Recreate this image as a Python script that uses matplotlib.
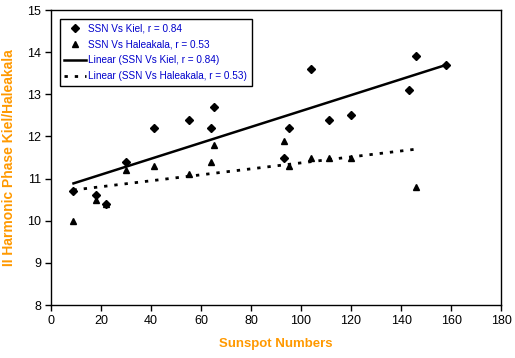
import numpy as np
import matplotlib
matplotlib.use("Agg")
import matplotlib.pyplot as plt
from matplotlib import font_manager

plt.rcParams['font.family'] = ['Liberation Sans', 'DejaVu Sans']

# 数据
ssn_kiel = [9, 18, 22, 30, 41, 55, 64, 65, 93, 95, 104, 111, 120, 143, 146, 158]
phase_kiel = [10.7, 10.6, 10.4, 11.4, 12.2, 12.4, 12.2, 12.7, 11.5, 12.2, 13.6, 12.4, 12.5, 13.1, 13.9, 13.7]

ssn_hale = [9, 18, 22, 30, 41, 55, 64, 65, 93, 95, 104, 111, 120, 146]
phase_hale = [10.0, 10.5, 10.4, 11.2, 11.3, 11.1, 11.4, 11.8, 11.9, 11.3, 11.5, 11.5, 11.5, 10.8]

x_ticks = [0, 20, 40, 60, 80, 100, 120, 140, 160, 180]
y_ticks = [8, 9, 10, 11, 12, 13, 14, 15]

orange = '#FF9900'
blue = '#0000CC'

# 图例用窄字体（若可用）
names = {f.name for f in font_manager.fontManager.ttflist}
leg_family = 'Liberation Sans Narrow' if 'Liberation Sans Narrow' in names else 'Liberation Sans'
leg_size = 8.5 if leg_family == 'Liberation Sans Narrow' else 7.2

fig = plt.figure(figsize=(5.15, 3.58), dpi=100)
ax = fig.add_axes([0.099, 0.148, 0.874, 0.824])

ax.plot(ssn_kiel, phase_kiel, linestyle='none', marker='D', markersize=4,
        color='black', label='SSN Vs Kiel, r = 0.84')
ax.plot(ssn_hale, phase_hale, linestyle='none', marker='^', markersize=5,
        color='black', label='SSN Vs Haleakala, r = 0.53')

# 线性拟合
xk = np.array(ssn_kiel, dtype=float)
pk = np.polyfit(xk, phase_kiel, 1)
xs = np.array([xk.min(), xk.max()])
ax.plot(xs, np.polyval(pk, xs), '-', color='black', linewidth=1.8,
        label='Linear (SSN Vs Kiel, r = 0.84)')

xh = np.array(ssn_hale, dtype=float)
ph = np.polyfit(xh, phase_hale, 1)
xs2 = np.array([xh.min(), xh.max()])
ax.plot(xs2, np.polyval(ph, xs2), color='black', linewidth=2,
        linestyle=(0, (1.2, 2.5)), label='Linear (SSN Vs Haleakala, r = 0.53)')

ax.set_xlim(0, 180)
ax.set_ylim(8, 15)
ax.set_xticks(x_ticks)
ax.set_yticks(y_ticks)
ax.tick_params(direction='out', length=4, width=1, labelsize=9, pad=3)
for s in ax.spines.values():
    s.set_linewidth(1)
    s.set_color('black')

ax.set_xlabel('Sunspot Numbers', color=orange, fontweight='bold', fontsize=9.5, labelpad=8)
ax.set_ylabel('II Harmonic Phase Kiel/Haleakala', color=orange, fontweight='bold', fontsize=10, labelpad=8)

leg = ax.legend(loc='upper left', bbox_to_anchor=(0.02, 0.97),
                prop={'family': leg_family, 'size': leg_size},
                frameon=True, fancybox=False, edgecolor='black', framealpha=1,
                handlelength=2.2, handletextpad=0.2, borderpad=0.45, labelspacing=0.6,
                borderaxespad=0)
leg.get_frame().set_linewidth(1)
for t in leg.get_texts():
    t.set_color(blue)

plt.savefig('out.png', dpi=100)
